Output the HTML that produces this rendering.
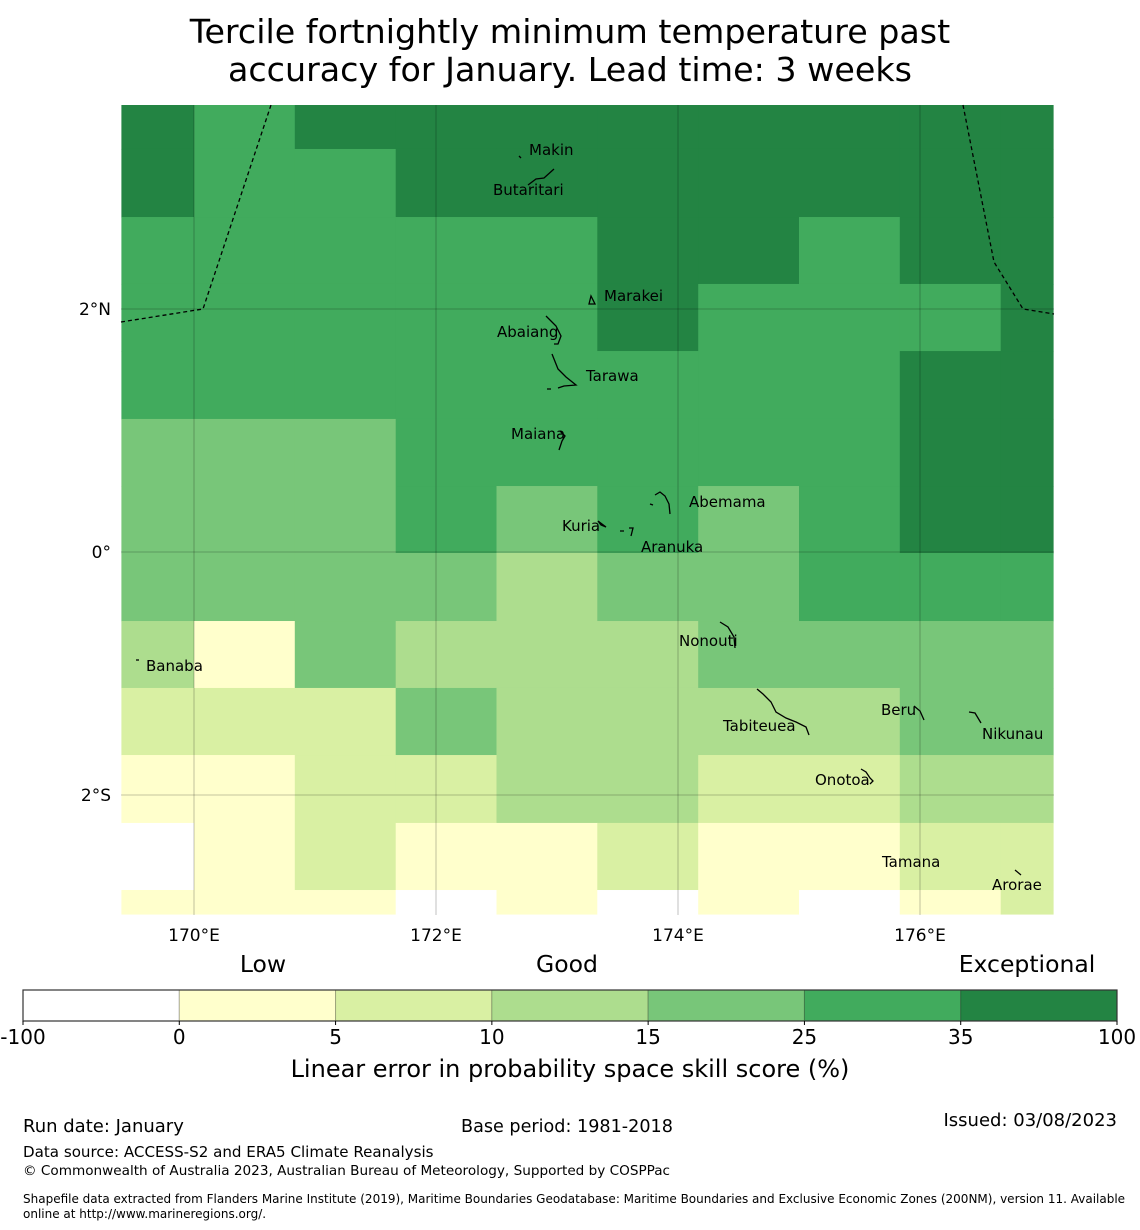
<!DOCTYPE html>
<html><head><meta charset="utf-8">
<style>
body{margin:0;background:#fff;font-family:"Liberation Sans","DejaVu Sans",sans-serif;}
svg{display:block}
text{font-family:"DejaVu Sans","Liberation Sans",sans-serif;fill:#000}
</style></head>
<body>
<svg id="chart" width="1140" height="1230" viewBox="0 0 1140 1230" xmlns="http://www.w3.org/2000/svg">
<text x="570" y="43" font-size="33.3" text-anchor="middle">Tercile fortnightly minimum temperature past</text>
<text x="570" y="81" font-size="33.3" text-anchor="middle">accuracy for January. Lead time: 3 weeks</text>
<g id="cells"></g>
<g id="grid"></g>
<g fill="none" stroke="#000" stroke-width="1.3" stroke-dasharray="4,3">
<polyline points="121,322 203,309 271,105"/>
<polyline points="963,105 994,262 1023,309 1054,314"/>
</g>
<g fill="none" stroke="#000" stroke-width="1.3">
<path d="M519,156 l2,2 M528,185 l8,-6 l8,-1 l10,-9" />
<path d="M589,304 l2,-8 l4,8 z"/>
<path d="M546,316 l10,10 l5,10 l-3,8 l-4,0"/>
<path d="M552,354 l6,15 l8,8 l10,8 l-12,1 l-6,2 M547,389 l4,0"/>
<path d="M560,431 l5,5 l-3,5 l-3,9"/>
<path d="M650,504 l3,1 M655,495 l5,-3 l5,4 l4,8 l1,10"/>
<path d="M598,521 l3,4 l5,2 z M620,531 l4,0 M629,528 l4,0 l-2,8"/>
<path d="M720,622 l8,5 l6,10 l1,11"/>
<path d="M757,689 l6,5 l8,8 l5,10 l10,6 l10,4 l10,5 l3,8"/>
<path d="M914,706 l6,5 l4,9"/>
<path d="M969,712 l6,1 l6,10"/>
<path d="M861,769 l5,3 l4,6 l3,3 l-3,3"/>
<path d="M1015,870 l6,5"/>
<path d="M136,660 l3,0"/>
</g>
<g font-size="15">
<text x="529" y="155">Makin</text>
<text x="493" y="195">Butaritari</text>
<text x="604" y="301">Marakei</text>
<text x="497" y="337">Abaiang</text>
<text x="586" y="381">Tarawa</text>
<text x="511" y="439">Maiana</text>
<text x="689" y="507">Abemama</text>
<text x="562" y="531">Kuria</text>
<text x="641" y="552">Aranuka</text>
<text x="679" y="646">Nonouti</text>
<text x="146" y="671">Banaba</text>
<text x="881" y="715">Beru</text>
<text x="723" y="731">Tabiteuea</text>
<text x="982" y="739">Nikunau</text>
<text x="815" y="785">Onotoa</text>
<text x="882" y="867">Tamana</text>
<text x="992" y="890">Arorae</text>
</g>
<g id="axes"></g>
<g id="cbar"></g>
<text x="263" y="972" font-size="23.5" text-anchor="middle">Low</text>
<text x="567" y="972" font-size="23.5" text-anchor="middle">Good</text>
<text x="1027" y="972" font-size="23.5" text-anchor="middle">Exceptional</text>
<text x="570" y="1077" font-size="24" text-anchor="middle">Linear error in probability space skill score (%)</text>
<text x="23" y="1132" font-size="18">Run date: January</text>
<text x="461" y="1132" font-size="17.6">Base period: 1981-2018</text>
<text x="1117" y="1126" font-size="18" text-anchor="end">Issued: 03/08/2023</text>
<text x="23" y="1157" font-size="15.1">Data source: ACCESS-S2 and ERA5 Climate Reanalysis</text>
<text x="23" y="1175" font-size="13.6">© Commonwealth of Australia 2023, Australian Bureau of Meteorology, Supported by COSPPac</text>
<text x="23" y="1203" font-size="12">Shapefile data extracted from Flanders Marine Institute (2019), Maritime Boundaries Geodatabase: Maritime Boundaries and Exclusive Economic Zones (200NM), version 11. Available</text>
<text x="23" y="1218" font-size="12">online at http://www.marineregions.org/.</text>
</svg>
<script>
// skill category per cell (0=<0, 1=0-5, 2=5-10, 3=10-15, 4=15-25, 5=25-35, 6=35-100), rows north->south
const skillRows = [
 [6,5,6,6,6,6,6,6,6,6],
 [6,5,5,6,6,6,6,6,6,6],
 [5,5,5,5,5,6,6,5,6,6],
 [5,5,5,5,5,6,5,5,5,6],
 [5,5,5,5,5,5,5,5,6,6],
 [4,4,4,5,5,5,5,5,6,6],
 [4,4,4,5,4,5,4,5,6,6],
 [4,4,4,4,3,4,4,5,5,5],
 [3,1,4,3,3,3,4,4,4,4],
 [2,2,2,4,3,3,3,3,4,4],
 [1,1,2,2,3,3,2,2,3,3],
 [0,1,2,1,1,2,1,1,2,2],
 [1,1,1,0,1,0,1,0,1,2]
];
const colLonEdges = [169.4,170.0,170.833,171.667,172.5,173.333,174.167,175.0,175.833,176.667,177.1];
const rowLatEdges = [3.68,3.317,2.757,2.206,1.654,1.095,0.543,-0.008,-0.568,-1.119,-1.671,-2.23,-2.782,-2.98];
const lonTicks = [170,172,174,176];
const latTicks = [2,0,-2];
const lonTickLabels = ["170°E","172°E","174°E","176°E"];
const latTickLabels = ["2°N","0°","2°S"];
const cbarBounds = ["-100","0","5","10","15","25","35","100"];
const palette = ["#ffffff","#ffffcc","#d9f0a3","#addd8e","#78c679","#41ab5d","#238443"];

const NS="http://www.w3.org/2000/svg";
const X0=121,X1=1054,Y0=105,Y1=915;
function xOf(lon){return 194+(lon-170)*121;}
function yOf(lat){return 552-lat*121.5;}
function clampX(v){return Math.max(X0,Math.min(X1,v));}
function clampY(v){return Math.max(Y0,Math.min(Y1,v));}
function mk(tag,attrs,parent){const e=document.createElementNS(NS,tag);for(const k in attrs)e.setAttribute(k,attrs[k]);parent.appendChild(e);return e;}

const cells=document.getElementById('cells');
skillRows.forEach((row,ri)=>{
  row.forEach((v,ci)=>{
    const x=clampX(xOf(colLonEdges[ci])), x2=clampX(xOf(colLonEdges[ci+1]));
    const y=clampY(yOf(rowLatEdges[ri])), y2=clampY(yOf(rowLatEdges[ri+1]));
    const r=mk('rect',{x:x,y:y,width:x2-x+0.5,height:y2-y+0.5,fill:palette[v]},cells);
    
    
  });
});
const grid=document.getElementById('grid');
const axes=document.getElementById('axes');
lonTicks.forEach((lon,i)=>{
  const l=mk('line',{x1:xOf(lon),x2:xOf(lon),y1:Y0,y2:Y1,stroke:'#000','stroke-opacity':0.3,'stroke-width':0.8},grid);
  
  
  const t=mk('text',{x:xOf(lon),y:941,'font-size':17,'text-anchor':'middle'},axes);
  t.textContent=lonTickLabels[i];
  
  
});
latTicks.forEach((lat,i)=>{
  const l=mk('line',{x1:X0,x2:X1,y1:yOf(lat),y2:yOf(lat),stroke:'#000','stroke-opacity':0.3,'stroke-width':0.8},grid);
  
  
  const t=mk('text',{x:111,y:yOf(lat)+6,'font-size':17,'text-anchor':'end'},axes);
  t.textContent=latTickLabels[i];
  
  
});
const cbar=document.getElementById('cbar');
const CX0=23,CX1=1117,CY=990,CH=31,n=cbarBounds.length-1,w=(CX1-CX0)/n;
for(let i=0;i<n;i++){
  const r=mk('rect',{x:CX0+i*w,y:CY,width:w,height:CH,fill:palette[i],stroke:'rgba(0,0,0,0.25)','stroke-width':1},cbar);
  
  
}
mk('rect',{x:CX0,y:CY,width:CX1-CX0,height:CH,fill:'none',stroke:'#333','stroke-width':1.2},cbar);
cbarBounds.forEach((b,i)=>{
  const x=CX0+i*w;
  mk('line',{x1:x,x2:x,y1:CY+CH,y2:CY+CH+4,stroke:'#000'},cbar);
  const t=mk('text',{x:x,y:1044,'font-size':20,'text-anchor':'middle'},cbar);
  t.textContent=b;
  
  
});
</script>
</body></html>
